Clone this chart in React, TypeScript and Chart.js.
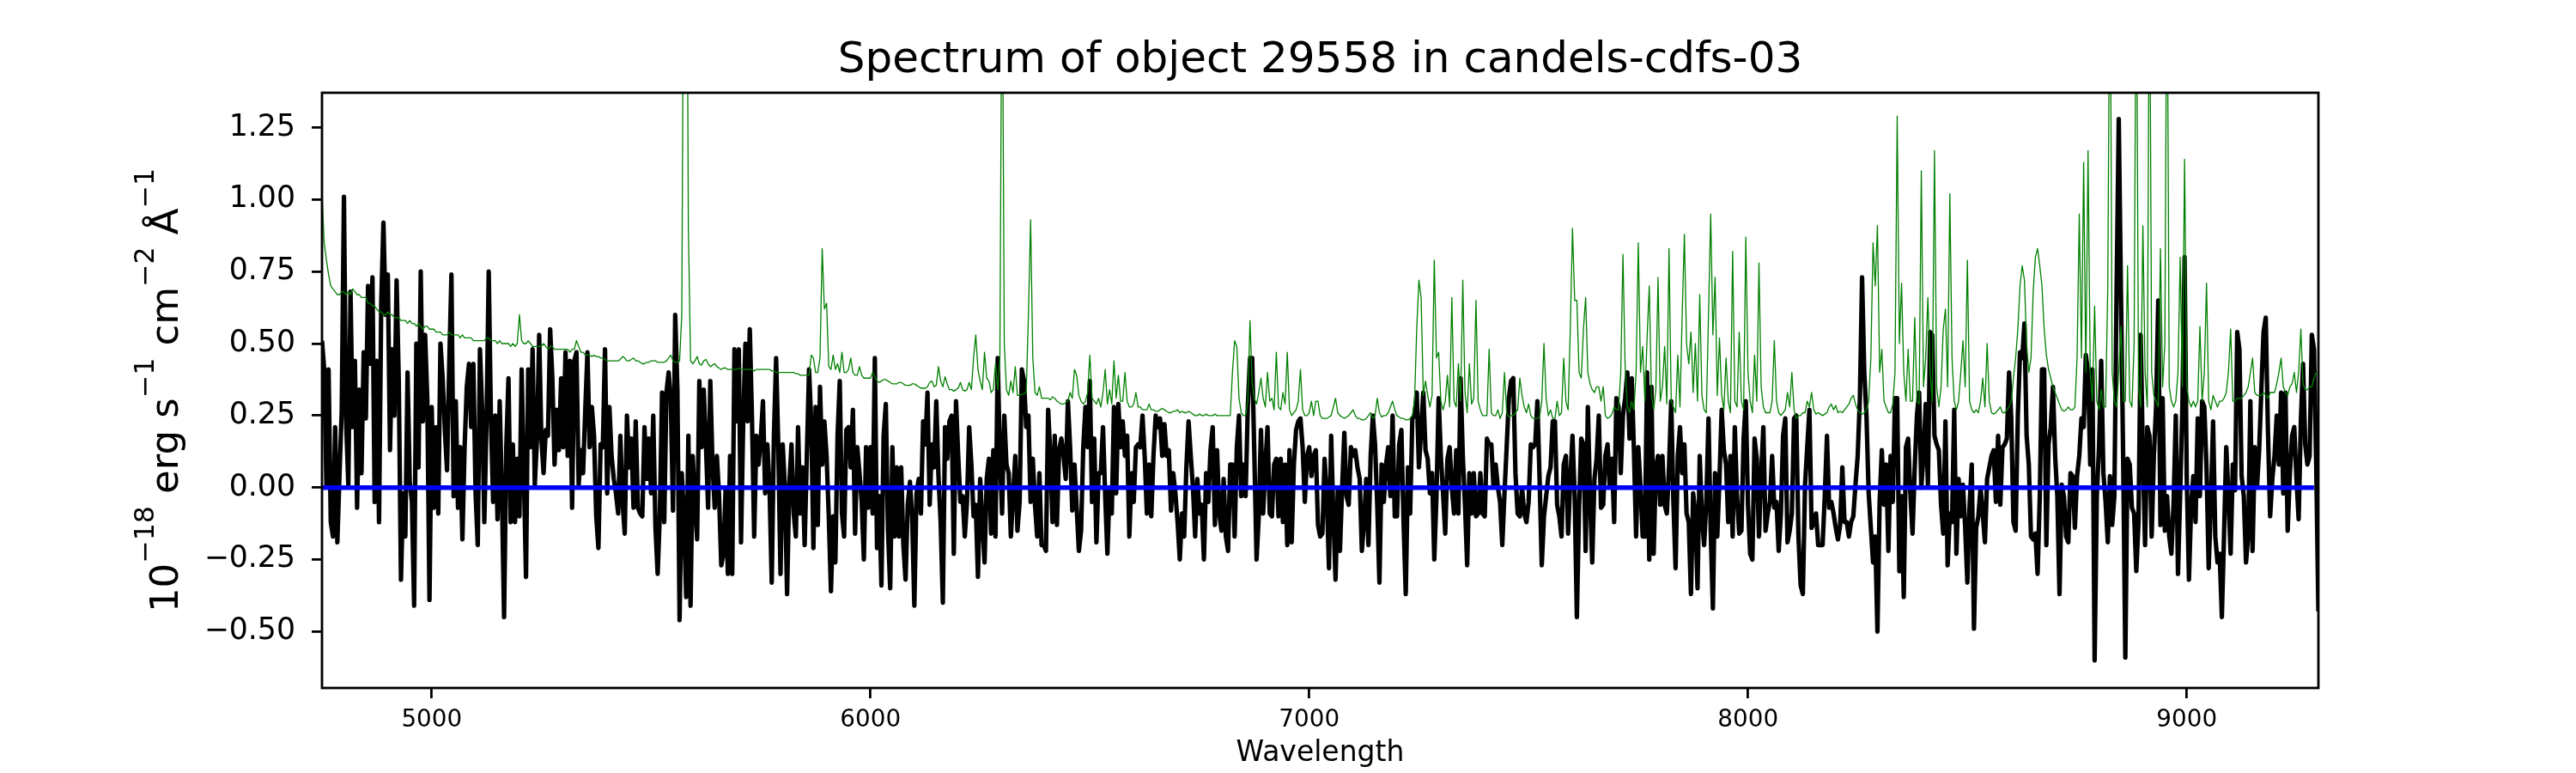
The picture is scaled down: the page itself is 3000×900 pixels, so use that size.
import { useEffect, useRef } from "react";
import { Chart, registerables } from "chart.js";

Chart.register(...registerables);

const FONT = "'DejaVu Sans', sans-serif";
const TITLE = "Spectrum of object 29558 in candels-cdfs-03";
const X_LABEL = "Wavelength";
// y label runs: [text, isSuperscript]
const Y_LABEL: [string, boolean][] = [
  ["10", false],
  ["\u221218", true],
  [" erg s", false],
  ["\u22121", true],
  [" cm", false],
  ["\u22122", true],
  [" \u00c5", false],
  ["\u22121", true],
];

// wavelength grid of the spectrum (Angstrom)
const WAVE_START = 4750;
const WAVE_STEP = 5;

const X_MIN = 4750;
const X_MAX = 9300;
const Y_MIN = -0.696;
const Y_MAX = 1.371;
const X_TICKS = [5000, 6000, 7000, 8000, 9000];
const Y_TICKS = [-0.5, -0.25, 0, 0.25, 0.5, 0.75, 1.0, 1.25];

// flux, 4750-5305
const FLUX_A = [
  0.51, 0.41, 0.01, 0.41, -0.12, -0.17, 0.21, -0.19, 0.05, 0.27,
  1.01, 0.23, 0.01, 0.68, 0.21, 0.44, -0.07, 0.34, 0.05, 0.47,
  0.24, 0.70, 0.43, 0.73, -0.05, 0.44, -0.12, 0.64, 0.92, 0.60,
  0.74, 0.13, 0.48, 0.25, 0.72, 0.37, -0.32, -0.02, -0.17, 0.40,
  0.02, -0.05, -0.41, 0.50, 0.07, 0.75, 0.23, 0.53, 0.31, -0.39,
  0.28, -0.07, 0.21, -0.09, 0.50, 0.38, 0.20, 0.06, 0.43, 0.74,
  -0.03, 0.30, -0.07, 0.14, -0.18, 0.14, 0.35, 0.43, 0.21, 0.43,
  -0.02, -0.20, 0.48, 0.27, -0.12, 0.23, 0.75, 0.24, -0.05, 0.25,
  -0.11, 0.30, -0.02, -0.45, 0.14, 0.38, -0.12, 0.15, -0.12, 0.10,
  -0.10, 0.41, 0.05, -0.31, 0.41, 0.14, 0.48, 0.01, 0.17, 0.53,
  0.17, 0.05, 0.20, 0.18, 0.55, 0.38, 0.08, 0.27, 0.13, 0.38,
  0.14, 0.47,
];
// flux, 5310-5870
const FLUX_B = [
  0.11, 0.44, -0.07, 0.44, 0.47, 0.01, 0.13, 0.05, 0.27, 0.47,
  0.14, 0.28, 0.18, -0.10, -0.21, 0.15, 0.14, 0.48, -0.02, 0.28,
  0.11, 0.03, -0.02, -0.09, 0.18, -0.05, -0.16, 0.25, 0.07, 0.17,
  -0.07, 0.23, -0.07, -0.09, -0.10, 0.21, 0.03, 0.17, -0.02, 0.25,
  -0.14, -0.30, -0.09, 0.33, -0.12, 0.33, 0.40, 0.30, -0.08, 0.60,
  0.34, -0.46, 0.05, -0.10, -0.38, 0.18, -0.41, 0.11, -0.06, -0.18,
  0.37, 0.14, 0.34, 0.15, -0.07, 0.37, 0.08, -0.07, 0.11, -0.03,
  -0.27, -0.23, 0.00, -0.30, 0.11, -0.30, 0.48, 0.23, 0.48, -0.19,
  0.23, 0.50, 0.23, 0.55, 0.24, -0.17, 0.18, 0.08, 0.17, 0.30,
  -0.02, 0.15, 0.00, -0.33, 0.18, 0.45, 0.14, -0.30, 0.15, 0.00,
  -0.37, 0.01, 0.15, -0.09, -0.17, 0.21, -0.09, 0.07, -0.20, 0.11,
  0.41, 0.23, -0.21,
];
// flux, 5875-6440
const FLUX_C = [
  0.28, -0.13, 0.35, 0.08, 0.23, 0.11, -0.10, -0.36, -0.10, -0.26,
  0.18, 0.37, -0.09, -0.17, 0.20, 0.21, 0.07, 0.27, -0.16, 0.14,
  0.05, -0.05, -0.25, 0.14, -0.07, 0.14, -0.09, 0.45, -0.21, -0.03,
  -0.34, 0.18, 0.29, -0.15, -0.35, 0.14, -0.17, 0.07, -0.17, 0.07,
  -0.20, -0.32, -0.06, 0.02, -0.10, -0.41, -0.02, 0.03, -0.09, 0.23,
  0.15, 0.33, -0.06, 0.15, 0.07, 0.30, 0.04, -0.12, -0.40, 0.21,
  0.10, 0.23, 0.25, -0.23, 0.30, 0.11, -0.05, -0.03, -0.17, -0.05,
  0.21, 0.08, -0.10, -0.06, -0.31, 0.03, -0.12, -0.26, 0.03, 0.10,
  -0.16, 0.13, -0.17, 0.45, 0.11, -0.09, 0.25, 0.08, 0.05, -0.17,
  -0.03, 0.11, -0.15, -0.05, 0.41, 0.37, 0.21, 0.25, -0.05, 0.10,
  -0.06, -0.17, 0.05, -0.20, -0.20, -0.22, 0.27, 0.11, -0.12, 0.18,
  -0.13, 0.13, 0.17, 0.11,
];
// flux, 6445-7005
const FLUX_D = [
  0.03, 0.30, 0.14, -0.08, 0.08, -0.07, -0.22, -0.15, 0.14, 0.28,
  0.14, 0.37, -0.05, 0.17, -0.19, 0.05, 0.05, 0.21, -0.03, -0.23,
  0.00, -0.09, 0.28, -0.02, 0.29, 0.14, 0.23, 0.11, 0.18, -0.17,
  0.05, -0.05, 0.14, 0.15, 0.14, 0.25, 0.11, -0.09, 0.08, -0.10,
  0.11, 0.25, 0.21, 0.24, 0.11, 0.22, 0.11, 0.13, -0.08, 0.05,
  -0.02, -0.12, -0.25, -0.09, -0.17, 0.07, 0.23, 0.11, 0.00, -0.17,
  0.03, -0.09, -0.06, -0.25, 0.05, -0.05, 0.13, 0.21, -0.13, 0.13,
  -0.09, -0.15, 0.03, -0.17, -0.22, 0.08, 0.08, -0.17, 0.14, 0.25,
  -0.03, 0.08, -0.03, 0.28, 0.45, 0.45, 0.11, -0.25, -0.10, 0.20,
  -0.09, 0.08, 0.21, -0.09, -0.10, 0.08, 0.10, -0.10, 0.10, -0.12,
  0.08, -0.20, 0.13, -0.19, 0.08, 0.20, 0.23, 0.24, 0.14, -0.05,
  0.11, 0.14, 0.04,
];
// flux, 7010-7585
const FLUX_E = [
  0.11, 0.13, -0.13, -0.17, -0.16, 0.10, -0.02, -0.28, 0.18, -0.10,
  -0.32, -0.01, -0.22, 0.00, 0.19, -0.03, -0.06, 0.14, 0.11, 0.13,
  0.07, 0.03, -0.22, -0.12, 0.03, -0.20, 0.11, 0.25, 0.15, -0.06,
  -0.33, 0.08, -0.05, 0.08, 0.14, -0.03, 0.25, -0.10, -0.10, 0.15,
  0.20, -0.12, -0.37, 0.07, -0.09, 0.24, 0.25, 0.33, 0.07, 0.20,
  0.33, 0.13, 0.10, -0.02, 0.05, -0.25, -0.03, 0.31, 0.11, -0.02,
  -0.16, 0.10, 0.14, 0.00, -0.09, 0.13, -0.09, 0.38, 0.11, -0.06,
  -0.27, 0.05, -0.09, 0.05, -0.10, -0.09, 0.05, -0.09, -0.10, 0.17,
  0.15, 0.15, 0.00, 0.08, 0.00, -0.05, -0.20, -0.02, 0.14, 0.31,
  0.37, 0.38, 0.05, -0.09, -0.10, 0.00, -0.09, -0.12, -0.05, 0.15,
  0.14, 0.15, 0.30, 0.03, -0.27, -0.10, -0.03, 0.04, 0.07, 0.23,
  0.23, -0.06, -0.10, -0.17, 0.08, 0.11,
];
// flux, 7590-8140
const FLUX_F = [
  -0.16, 0.03, 0.18, -0.03, -0.45, -0.07, 0.17, 0.15, -0.22, 0.28,
  -0.03, -0.26, 0.03, 0.10, 0.25, -0.07, -0.06, 0.11, 0.15, 0.00,
  0.10, -0.12, 0.31, 0.28, 0.05, 0.25, 0.31, 0.40, 0.17, 0.38,
  0.13, -0.17, 0.14, 0.00, -0.17, -0.17, 0.40, -0.25, 0.35, -0.23,
  0.07, 0.11, -0.06, 0.11, -0.06, -0.09, 0.07, 0.30, -0.05, -0.28,
  0.11, 0.21, 0.05, 0.15, -0.09, -0.12, -0.37, -0.02, -0.09, -0.35,
  0.11, -0.10, -0.20, -0.05, 0.24, -0.15, -0.42, 0.05, -0.17, 0.03,
  0.27, 0.13, 0.08, -0.12, 0.11, -0.17, 0.21, -0.03, -0.16, -0.15,
  0.17, 0.30, -0.06, -0.23, -0.25, 0.17, 0.10, -0.17, 0.05, 0.21,
  -0.15, -0.09, -0.05, 0.11, -0.07, -0.05, -0.22, -0.09, 0.18, 0.24,
  -0.19, -0.15, -0.09, 0.24, 0.25, -0.17, -0.34, -0.37, 0.01, 0.14,
  0.27,
];
// flux, 8145-8710
const FLUX_G = [
  -0.14, -0.12, -0.09, -0.20, -0.20, -0.20, -0.03, 0.18, -0.07, -0.05,
  -0.09, -0.14, -0.18, -0.13, 0.07, -0.12, -0.12, -0.17, -0.12, -0.10,
  0.01, 0.11, 0.31, 0.73, 0.40, 0.25, -0.02, -0.14, -0.26, -0.17,
  -0.50, -0.05, 0.13, -0.06, 0.08, -0.22, 0.11, -0.05, 0.31, 0.31,
  -0.29, -0.03, -0.38, 0.14, 0.17, -0.02, -0.16, 0.07, 0.25, 0.33,
  0.00, 0.11, 0.29, 0.01, 0.54, 0.53, 0.18, 0.15, 0.13, -0.06,
  -0.16, 0.23, -0.27, -0.09, -0.12, 0.27, -0.23, 0.03, -0.10, 0.01,
  -0.14, -0.33, -0.06, 0.08, -0.49, -0.14, -0.10, 0.00, -0.09, -0.19,
  0.03, 0.07, 0.11, 0.13, -0.05, 0.18, -0.06, 0.14, 0.15, 0.17,
  0.40, 0.24, -0.12, -0.15, 0.25, 0.47, 0.45, 0.57, 0.18, 0.08,
  -0.17, -0.18, -0.16, -0.30, -0.03, 0.41, 0.41, -0.20, 0.15, 0.21,
  0.35, 0.11, -0.03, -0.37,
];
// flux, 8715-9300
const FLUX_H = [
  0.01, -0.03, -0.17, -0.19, 0.05, 0.04, -0.14, 0.04, 0.11, 0.24,
  0.21, 0.46, 0.40, 0.08, 0.41, -0.60, -0.03, 0.14, 0.44, 0.05,
  -0.05, -0.19, 0.04, -0.13, -0.03, 0.68, 1.28, 0.68, 0.11, -0.59,
  0.10, 0.08, -0.07, -0.09, -0.29, -0.12, 0.53, 0.11, -0.20, 0.21,
  0.18, -0.17, 0.11, 0.28, 0.65, -0.13, 0.31, -0.15, -0.03, -0.17,
  -0.23, -0.05, 0.25, -0.30, -0.02, 0.28, 0.80, 0.03, -0.32, -0.06,
  0.04, -0.12, 0.24, -0.03, 0.30, 0.28, 0.07, -0.28, -0.05, 0.23,
  -0.17, -0.26, -0.23, -0.45, -0.16, 0.14, -0.03, -0.23, 0.08, -0.01,
  0.54, 0.48, 0.04, -0.03, -0.26, -0.17, 0.30, -0.22, 0.14, 0.00,
  0.13, 0.34, 0.54, 0.59, 0.20, -0.10, 0.03, 0.11, 0.25, 0.08,
  0.33, -0.02, 0.33, -0.15, 0.05, 0.18, 0.21, 0.03, -0.11, 0.23,
  0.43, 0.15, 0.08, 0.11, 0.53, 0.48, 0.08, -0.43,
];

// noise (green), same grid
const NOISE_A = [
  1.02, 0.85, 0.79, 0.74, 0.70, 0.69, 0.68, 0.67, 0.67, 0.68,
  0.68, 0.67, 0.68, 0.67, 0.69, 0.68, 0.67, 0.67, 0.66, 0.66,
  0.66, 0.64, 0.64, 0.63, 0.63, 0.62, 0.61, 0.61, 0.60, 0.60,
  0.61, 0.60, 0.60, 0.59, 0.59, 0.59, 0.58, 0.58, 0.58, 0.57,
  0.58, 0.57, 0.57, 0.56, 0.57, 0.56, 0.55, 0.56, 0.56, 0.55,
  0.55, 0.55, 0.54, 0.54, 0.54, 0.53, 0.53, 0.53, 0.54, 0.53,
  0.53, 0.53, 0.53, 0.52, 0.53, 0.52, 0.52, 0.52, 0.52, 0.51,
  0.51, 0.51, 0.51, 0.51, 0.51, 0.52, 0.52, 0.51, 0.51, 0.51,
  0.50, 0.51, 0.50, 0.50, 0.50, 0.50, 0.49, 0.50, 0.49, 0.50,
  0.60, 0.51, 0.50, 0.50, 0.51, 0.50, 0.49, 0.49, 0.49, 0.49,
  0.49, 0.50, 0.49, 0.48, 0.49, 0.49, 0.48, 0.48, 0.48, 0.48,
  0.48, 0.48,
];
const NOISE_B = [
  0.48, 0.47, 0.48, 0.48, 0.51, 0.49, 0.47, 0.47, 0.46, 0.46,
  0.46, 0.455, 0.46, 0.455, 0.455, 0.45, 0.45, 0.445, 0.44, 0.44,
  0.44, 0.44, 0.44, 0.44, 0.445, 0.455, 0.45, 0.44, 0.44, 0.445,
  0.45, 0.44, 0.44, 0.435, 0.43, 0.43, 0.435, 0.435, 0.44, 0.44,
  0.44, 0.435, 0.435, 0.435, 0.435, 0.44, 0.45, 0.46, 0.44, 0.435,
  0.435, 0.44, 0.60, 2.2, 2.6, 0.9, 0.44, 0.43, 0.44, 0.455,
  0.43, 0.425, 0.44, 0.445, 0.43, 0.42, 0.425, 0.43, 0.42, 0.415,
  0.41, 0.415, 0.415, 0.41, 0.41, 0.41, 0.41, 0.41, 0.415, 0.41,
  0.41, 0.41, 0.41, 0.41, 0.41, 0.405, 0.41, 0.41, 0.41, 0.41,
  0.41, 0.41, 0.41, 0.405, 0.405, 0.40, 0.40, 0.40, 0.40, 0.40,
  0.40, 0.40, 0.40, 0.40, 0.395, 0.395, 0.39, 0.39, 0.39, 0.39,
  0.39, 0.46, 0.45,
];
const NOISE_C = [
  0.40, 0.40, 0.45, 0.83, 0.62, 0.64, 0.42, 0.41, 0.46, 0.41,
  0.43, 0.40, 0.47, 0.40, 0.40, 0.41, 0.45, 0.40, 0.39, 0.39,
  0.42, 0.39, 0.38, 0.38, 0.38, 0.38, 0.40, 0.385, 0.37, 0.365,
  0.37, 0.375, 0.375, 0.37, 0.365, 0.36, 0.36, 0.36, 0.365, 0.365,
  0.36, 0.355, 0.355, 0.355, 0.36, 0.36, 0.355, 0.35, 0.345, 0.345,
  0.345, 0.35, 0.365, 0.37, 0.35, 0.355, 0.42, 0.37, 0.35, 0.385,
  0.36, 0.34, 0.34, 0.335, 0.34, 0.345, 0.365, 0.34, 0.335, 0.34,
  0.365, 0.34, 0.45, 0.53, 0.41, 0.37, 0.34, 0.47, 0.38, 0.37,
  0.33, 0.34, 0.43, 0.34, 0.45, 2.0, 0.50, 0.34, 0.32, 0.37,
  0.33, 0.42, 0.32, 0.32, 0.325, 0.325, 0.33, 0.60, 0.93, 0.45,
  0.33, 0.32, 0.35, 0.31, 0.31, 0.31, 0.31, 0.305, 0.315, 0.31,
  0.30, 0.295, 0.29, 0.29,
];
const NOISE_D = [
  0.295, 0.30, 0.33, 0.31, 0.41, 0.39, 0.32, 0.30, 0.29, 0.30,
  0.33, 0.46, 0.31, 0.30, 0.29, 0.31, 0.28, 0.33, 0.41, 0.29,
  0.34, 0.29, 0.44, 0.31, 0.39, 0.30, 0.30, 0.40, 0.30, 0.28,
  0.28, 0.29, 0.33, 0.28, 0.28, 0.27, 0.27, 0.27, 0.29, 0.27,
  0.27, 0.265, 0.265, 0.27, 0.275, 0.27, 0.265, 0.26, 0.26, 0.265,
  0.265, 0.27, 0.26, 0.265, 0.26, 0.26, 0.265, 0.26, 0.255, 0.25,
  0.25, 0.255, 0.25, 0.25, 0.255, 0.25, 0.25, 0.25, 0.255, 0.25,
  0.25, 0.25, 0.25, 0.25, 0.25, 0.25, 0.40, 0.51, 0.49, 0.31,
  0.26, 0.25, 0.25, 0.30, 0.58, 0.36, 0.31, 0.29, 0.33, 0.38,
  0.31, 0.28, 0.40, 0.30, 0.31, 0.27, 0.47, 0.28, 0.27, 0.33,
  0.29, 0.47, 0.27, 0.25, 0.26, 0.27, 0.30, 0.41, 0.27, 0.25,
  0.25, 0.26, 0.30,
];
const NOISE_E = [
  0.25, 0.30, 0.30, 0.25, 0.24, 0.24, 0.24, 0.245, 0.25, 0.28,
  0.31, 0.26, 0.25, 0.245, 0.24, 0.245, 0.25, 0.26, 0.27, 0.25,
  0.24, 0.24, 0.235, 0.235, 0.24, 0.25, 0.26, 0.24, 0.25, 0.31,
  0.26, 0.245, 0.25, 0.25, 0.26, 0.28, 0.30, 0.27, 0.25, 0.245,
  0.24, 0.24, 0.235, 0.235, 0.24, 0.25, 0.30, 0.55, 0.72, 0.66,
  0.32, 0.37, 0.32, 0.28, 0.32, 0.79, 0.45, 0.47, 0.30, 0.27,
  0.30, 0.39, 0.28, 0.66, 0.30, 0.28, 0.43, 0.30, 0.72, 0.33,
  0.26, 0.43, 0.29, 0.31, 0.65, 0.30, 0.27, 0.25, 0.25, 0.25,
  0.48, 0.26, 0.25, 0.25, 0.27, 0.24, 0.26, 0.40, 0.26, 0.245,
  0.25, 0.25, 0.26, 0.27, 0.38, 0.32, 0.28, 0.26, 0.29, 0.25,
  0.24, 0.24, 0.24, 0.245, 0.30, 0.50, 0.31, 0.25, 0.27, 0.24,
  0.24, 0.30, 0.25, 0.26, 0.45, 0.30,
];
const NOISE_F = [
  0.27, 0.55, 0.90, 0.65, 0.65, 0.40, 0.38, 0.55, 0.66, 0.40,
  0.36, 0.34, 0.33, 0.35, 0.35, 0.30, 0.35, 0.25, 0.24, 0.245,
  0.255, 0.28, 0.27, 0.27, 0.40, 0.81, 0.42, 0.28, 0.26, 0.30,
  0.27, 0.40, 0.85, 0.40, 0.49, 0.30, 0.52, 0.70, 0.32, 0.27,
  0.34, 0.73, 0.30, 0.35, 0.49, 0.29, 0.83, 0.30, 0.28, 0.26,
  0.46, 0.28, 0.60, 0.88, 0.50, 0.43, 0.54, 0.33, 0.50, 0.30,
  0.67, 0.32, 0.27, 0.26, 0.60, 0.95, 0.53, 0.73, 0.32, 0.52,
  0.32, 0.27, 0.45, 0.30, 0.26, 0.82, 0.30, 0.28, 0.54, 0.30,
  0.27, 0.87, 0.40, 0.30, 0.26, 0.46, 0.30, 0.78, 0.35, 0.28,
  0.26, 0.26, 0.26, 0.30, 0.51, 0.30, 0.26, 0.25, 0.26, 0.27,
  0.33, 0.28, 0.40, 0.27, 0.24, 0.25, 0.25, 0.26, 0.26, 0.30,
  0.28,
];
const NOISE_G = [
  0.33, 0.27, 0.255, 0.26, 0.255, 0.25, 0.255, 0.26, 0.28, 0.29,
  0.27, 0.285, 0.26, 0.265, 0.26, 0.27, 0.28, 0.29, 0.31, 0.32,
  0.29, 0.27, 0.26, 0.255, 0.26, 0.27, 0.30, 0.45, 0.85, 0.70,
  0.91, 0.40, 0.48, 0.30, 0.28, 0.26, 0.26, 0.29, 0.40, 1.29,
  0.50, 0.71, 0.40, 0.30, 0.48, 0.30, 0.30, 0.59, 0.30, 0.29,
  1.10, 0.35, 0.45, 0.66, 0.40, 0.30, 1.17, 0.35, 0.28, 0.35,
  0.55, 0.62, 0.35, 1.02, 0.45, 0.30, 0.27, 0.30, 0.40, 0.51,
  0.35, 0.79, 0.30, 0.27, 0.26, 0.27, 0.26, 0.30, 0.38, 0.28,
  0.50, 0.30, 0.26, 0.255, 0.26, 0.27, 0.28, 0.26, 0.26, 0.27,
  0.28, 0.30, 0.38, 0.45, 0.55, 0.70, 0.77, 0.72, 0.50, 0.40,
  0.45, 0.68, 0.80, 0.83, 0.77, 0.70, 0.55, 0.46, 0.41, 0.38,
  0.35, 0.33, 0.31, 0.29,
];
const NOISE_H = [
  0.27, 0.265, 0.27, 0.28, 0.27, 0.27, 0.28, 0.45, 0.95, 0.45,
  1.13, 0.40, 1.17, 0.40, 0.30, 0.63, 0.30, 0.27, 0.34, 0.28,
  0.28, 0.70, 2.0, 0.40, 0.30, 0.28, 0.40, 0.56, 0.30, 0.30,
  0.77, 0.30, 0.28, 0.50, 2.0, 0.35, 0.28, 0.91, 0.40, 0.28,
  2.0, 0.40, 0.32, 0.30, 0.28, 0.83, 0.35, 0.50, 2.0, 0.35,
  0.30, 0.28, 0.30, 0.40, 0.80, 0.35, 1.14, 0.35, 0.30, 0.28,
  0.30, 0.28, 0.30, 0.56, 0.30, 0.40, 0.71, 0.30, 0.27, 0.32,
  0.30, 0.28, 0.30, 0.30, 0.31, 0.33, 0.40, 0.55, 0.30, 0.30,
  0.31, 0.31, 0.31, 0.32, 0.33, 0.35, 0.40, 0.45, 0.33, 0.32,
  0.32, 0.32, 0.33, 0.32, 0.31, 0.33, 0.33, 0.33, 0.36, 0.40,
  0.45, 0.35, 0.33, 0.32, 0.35, 0.36, 0.40, 0.33, 0.40, 0.55,
  0.36, 0.34, 0.34, 0.35, 0.35, 0.38, 0.40, 0.40,
];

// zero level (blue)
const ZERO_WAVE = [4750, 9290];
const ZERO_LEVEL = [0, 0];

const FLUX = [...FLUX_A, ...FLUX_B, ...FLUX_C, ...FLUX_D, ...FLUX_E, ...FLUX_F, ...FLUX_G, ...FLUX_H];
const NOISE = [...NOISE_A, ...NOISE_B, ...NOISE_C, ...NOISE_D, ...NOISE_E, ...NOISE_F, ...NOISE_G, ...NOISE_H];

const onGrid = (vals: number[]) => vals.map((y, i) => ({ x: WAVE_START + i * WAVE_STEP, y }));

const fmtY = (v: number) => v.toFixed(2).replace("-", "\u2212");

const figureText = {
  id: "figureText",
  afterDraw(chart: Chart) {
    const { ctx, chartArea } = chart;
    const cx = (chartArea.left + chartArea.right) / 2;
    const cy = (chartArea.top + chartArea.bottom) / 2;
    ctx.save();
    // axes frame
    ctx.strokeStyle = "#000";
    ctx.lineWidth = 2.8;
    ctx.strokeRect(chartArea.left, chartArea.top, chartArea.right - chartArea.left, chartArea.bottom - chartArea.top);

    ctx.fillStyle = "#000";
    ctx.textBaseline = "alphabetic";
    ctx.textAlign = "center";
    ctx.font = `50px ${FONT}`;
    ctx.fillText(TITLE, cx, chartArea.top - 24);
    ctx.font = `33px ${FONT}`;
    ctx.fillText(X_LABEL, cx, chartArea.bottom + 85);

    // y label with superscripts
    const big = `45px ${FONT}`;
    const small = `31.5px ${FONT}`;
    let total = 0;
    const widths = Y_LABEL.map(([t, sup]) => {
      ctx.font = sup ? small : big;
      const w = ctx.measureText(t).width;
      total += w;
      return w;
    });
    ctx.translate(207, cy);
    ctx.rotate(-Math.PI / 2);
    ctx.textAlign = "left";
    let x = -total / 2;
    Y_LABEL.forEach(([t, sup], i) => {
      ctx.font = sup ? small : big;
      ctx.fillText(t, x, sup ? -28 : 0);
      x += widths[i];
    });
    ctx.restore();
  },
};

const SpectrumChart = () => {
  const canvasRef = useRef<HTMLCanvasElement | null>(null);
  const chartRef = useRef<Chart | null>(null);

  useEffect(() => {
    if (!canvasRef.current) return;
    if (chartRef.current) chartRef.current.destroy();

    const tickGrid = {
      display: true,
      drawOnChartArea: false,
      drawTicks: true,
      tickLength: 12,
      lineWidth: 2.8,
      tickWidth: 2.8,
      tickColor: "#000",
      color: "#000",
    };

    chartRef.current = new Chart(canvasRef.current, {
      type: "line",
      data: {
        datasets: [
          {
            label: "zero",
            data: ZERO_WAVE.map((x, i) => ({ x, y: ZERO_LEVEL[i] })),
            borderColor: "#0000ff",
            borderWidth: 5.5,
            pointRadius: 0,
          },
          {
            label: "noise",
            data: onGrid(NOISE),
            borderColor: "#008000",
            borderWidth: 1.3,
            pointRadius: 0,
            borderJoinStyle: "round",
          },
          {
            label: "flux",
            data: onGrid(FLUX),
            borderColor: "#000000",
            borderWidth: 5.2,
            pointRadius: 0,
            borderJoinStyle: "round",
          },
        ],
      },
      options: {
        responsive: false,
        animation: false,
        devicePixelRatio: 1,
        parsing: false,
        normalized: true,
        clip: 0,
        layout: { padding: { top: 108, right: 300, bottom: 0, left: 0 } },
        plugins: {
          legend: { display: false },
          tooltip: { enabled: false },
          title: { display: false },
        },
        elements: { line: { tension: 0, capBezierPoints: false } },
        scales: {
          x: {
            type: "linear",
            min: X_MIN,
            max: X_MAX,
            afterBuildTicks: (s: any) => {
              s.ticks = X_TICKS.map((value) => ({ value }));
            },
            afterFit: (s: any) => {
              s.height = 99;
            },
            grid: tickGrid,
            border: { display: false },
            ticks: {
              autoSkip: false,
              maxRotation: 0,
              padding: 9,
              color: "#000",
              font: { family: FONT, size: 27.8 },
              callback: (v: any) => String(v),
            },
          },
          y: {
            type: "linear",
            min: Y_MIN,
            max: Y_MAX,
            afterBuildTicks: (s: any) => {
              s.ticks = Y_TICKS.map((value) => ({ value }));
            },
            afterFit: (s: any) => {
              s.width = 375;
            },
            grid: tickGrid,
            border: { display: false },
            ticks: {
              autoSkip: false,
              padding: 19,
              color: "#000",
              font: { family: FONT, size: 34.7 },
              callback: (v: any) => fmtY(Number(v)),
            },
          },
        },
      },
      plugins: [figureText],
    });

    return () => {
      if (chartRef.current) {
        chartRef.current.destroy();
        chartRef.current = null;
      }
    };
  }, []);

  return (
    <div style={{ position: "absolute", left: 0, top: 0, width: 3000, height: 900, background: "#fff" }}>
      <canvas ref={canvasRef} width={3000} height={900} style={{ display: "block", width: 3000, height: 900 }} />
    </div>
  );
};

export default function App() {
  return <SpectrumChart />;
}
